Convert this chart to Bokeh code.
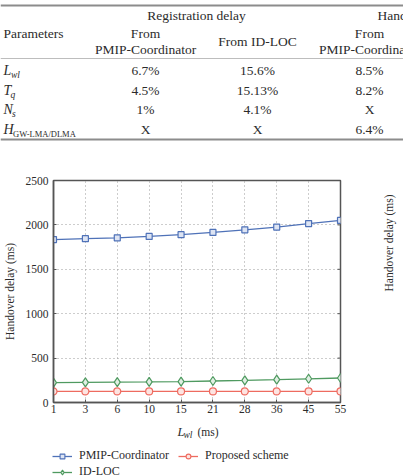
from math import pi

from bokeh.core.properties import value
from bokeh.embed import file_html
from bokeh.models import FixedTicker, Legend, LegendItem, LinearAxis, Range1d
from bokeh.plotting import figure
from bokeh.resources import INLINE

# ---- table: share of each parameter in the delays ----
param_main = ["L", "T", "N", "H"]
param_sub = ["wl", "q", "s", "GW-LMA/DLMA"]
reg_from_pmip = ["6.7%", "4.5%", "1%", "X"]
reg_from_idloc = ["15.6%", "15.13%", "4.1%", "X"]
ho_from_pmip = ["8.5%", "8.2%", "X", "6.4%"]

# ---- chart: handover delay versus wireless link delay ----
lwl_labels = ["1", "3", "6", "10", "15", "21", "28", "36", "45", "55"]
pmip_delay = [1835, 1845, 1855, 1870, 1890, 1915, 1945, 1975, 2015, 2050]
idloc_delay = [224, 226, 229, 232, 236, 242, 249, 257, 267, 276]
proposed_delay = [125, 125, 125, 125, 125, 125, 125, 125, 125, 125]
y_ticks = [0, 500, 1000, 1500, 2000, 2500]

SERIF = "Liberation Serif"
INK = "#2b2b2b"
BLUE = "#4f72b8"
GREEN = "#4f9a60"
RED = "#ee6b60"
FRAME = "#555555"
W = 403
NAN = float("nan")


def text_panel(height):
    """A figure whose drawing area is the whole canvas, in top-down pixel units."""
    f = figure(width=W, height=height, x_range=Range1d(0, W), y_range=Range1d(height, 0),
               output_backend="svg", toolbar_location=None,
               x_axis_type=None, y_axis_type=None, min_border=0,
               outline_line_color=None)
    f.grid.visible = False
    return f


# ---------------- table ----------------
tbl = text_panel(170)
tbl.segment(x0=[0, 0, 0], y0=[5, 58, 139], x1=[W, W, W], y1=[5, 58, 139],
            line_color=["#8c8c8c", "#bdbdbd", "#8c8c8c"], line_width=[2, 1, 2])

cell = dict(text_font=value(SERIF), text_font_size="13.5px", text_color=INK,
            text_baseline="middle")

tbl.text(x=[196], y=[15], text=["Registration delay"], text_align="center", **cell)
tbl.text(x=[377], y=[15], text=["Handover delay"], text_align="left", **cell)
tbl.text(x=[3], y=[33], text=["Parameters"], text_align="left", **cell)
tbl.text(x=[145, 369], y=[33, 33], text=["From", "From"], text_align="center", **cell)
tbl.text(x=[145, 369], y=[49, 49], text=["PMIP-Coordinator", "PMIP-Coordinator"],
         text_align="center", **cell)
tbl.text(x=[257], y=[41], text=["From ID-LOC"], text_align="center", **cell)

row_y = [70, 90, 109, 129]
sub_x = [10.5, 10, 11.5, 12.5]
tbl.text(x=[3] * 4, y=row_y, text=param_main, text_align="left",
         text_font_style="italic", **{**cell, "text_font_size": "14px"})
tbl.text(x=sub_x[:3], y=[y + 4 for y in row_y[:3]], text=param_sub[:3], text_align="left",
         text_font_style="italic", **{**cell, "text_font_size": "9.5px"})
tbl.text(x=sub_x[3:], y=[row_y[3] + 4], text=param_sub[3:], text_align="left",
         **{**cell, "text_font_size": "8.5px"})
tbl.text(x=[145] * 4, y=row_y, text=reg_from_pmip, text_align="center", **cell)
tbl.text(x=[257] * 4, y=row_y, text=reg_from_idloc, text_align="center", **cell)
tbl.text(x=[369] * 4, y=row_y, text=ho_from_pmip, text_align="center", **cell)

# ---------------- chart ----------------
xs = list(range(len(lwl_labels)))
x_end = len(lwl_labels) - 1

p = figure(width=W, height=248, x_range=Range1d(0, x_end), y_range=Range1d(0, 2500),
           output_backend="svg", toolbar_location=None,
           min_border_left=52, min_border_right=60, min_border_top=10,
           min_border_bottom=16, outline_line_color=FRAME, outline_line_width=1.5)

x_ticker = FixedTicker(ticks=xs)
y_ticker = FixedTicker(ticks=y_ticks)

p.xaxis.ticker = x_ticker
p.xaxis.major_label_overrides = {i: lab for i, lab in enumerate(lwl_labels)}
p.yaxis.ticker = y_ticker

for ax in (p.xaxis[0], p.yaxis[0]):
    ax.major_tick_in = 3
    ax.major_tick_out = 0
    ax.minor_tick_line_color = None
    ax.axis_line_color = FRAME
    ax.axis_line_width = 1.5
    ax.major_tick_line_color = FRAME
    ax.major_label_text_font = SERIF
    ax.major_label_text_font_size = "11.5px"
    ax.major_label_text_color = INK

p.xaxis.major_label_standoff = 2
p.yaxis.major_label_standoff = 5
p.yaxis.axis_label = "Handover delay (ms)"
p.yaxis.axis_label_text_font = SERIF
p.yaxis.axis_label_text_font_size = "11.5px"
p.yaxis.axis_label_text_font_style = "normal"
p.yaxis.axis_label_text_color = INK
p.yaxis.axis_label_standoff = 7

# title of the neighbouring panel's delay axis, on the right, reading upwards
right_axis = LinearAxis(ticker=FixedTicker(ticks=[]), axis_line_color=None,
                        minor_tick_line_color=None, major_tick_line_color=None,
                        axis_label="Handover delay (ms)", axis_label_standoff=48,
                        axis_label_text_font=SERIF, axis_label_text_font_size="11.5px",
                        axis_label_text_font_style="normal", axis_label_text_color=INK)
try:
    right_axis.axis_label_orientation = pi / 2
except Exception:
    pass
p.add_layout(right_axis, "right")

p.xgrid.ticker = x_ticker
p.ygrid.ticker = y_ticker
p.grid.grid_line_color = "#9a9a9a"
p.grid.grid_line_dash = "1 3"
p.grid.grid_line_width = 1

# inward ticks on the right edge of the box
p.scatter([x_end] * len(y_ticks), y_ticks, marker="dash", size=6,
          line_color=FRAME, line_width=1)

series = [
    ("PMIP-Coordinator", pmip_delay, BLUE, "square", 6, "#dde4f3"),
    ("ID-LOC", idloc_delay, GREEN, "diamond", 9, "#e0efe3"),
    ("Proposed scheme", proposed_delay, RED, "circle", 7, "#fde4e1"),
]
for _, ys, color, marker, size, fill in series:
    p.line(xs, ys, line_color=color, line_width=1.3)
    p.scatter(xs, ys, marker=marker, size=size, line_color=color,
              fill_color=fill, line_width=1.2)

# ---------------- x-axis title and legend ----------------
foot = text_panel(58)
foot.text(x=[177], y=[13], text=["L"], text_font=value(SERIF), text_font_size="12.5px",
          text_font_style="italic", text_color=INK, text_baseline="alphabetic")
foot.text(x=[183], y=[16], text=["wl"], text_font=value(SERIF), text_font_size="9.5px",
          text_font_style="italic", text_color=INK, text_baseline="alphabetic")
foot.text(x=[197], y=[13], text=["(ms)"], text_font=value(SERIF), text_font_size="11.5px",
          text_color=INK, text_baseline="alphabetic")

# legend keys: renderers holding a single undrawn point, used only for their style
keys = {}
for name, _, color, marker, size, fill in series:
    ln = foot.line(x=[NAN], y=[NAN], line_color=color, line_width=1.3)
    mk = foot.scatter(x=[NAN], y=[NAN], marker=marker, size=size - 2, line_color=color,
                      fill_color=fill, line_width=1.1)
    keys[name] = [ln, mk]

# filled column by column: PMIP / ID-LOC on the left, Proposed scheme on the right
legend = Legend(items=[LegendItem(label=n, renderers=keys[n])
                       for n in ("PMIP-Coordinator", "ID-LOC", "Proposed scheme")],
                location=(52, -3), ncols=2, border_line_color=None,
                background_fill_alpha=0, padding=0, margin=0, spacing=1,
                glyph_width=20, glyph_height=12, label_height=12,
                label_standoff=7, label_width=98,
                label_text_font=SERIF, label_text_font_size="12px",
                label_text_color=INK)
foot.add_layout(legend)

open("out.html", "w").write(file_html([tbl, p, foot], INLINE))
